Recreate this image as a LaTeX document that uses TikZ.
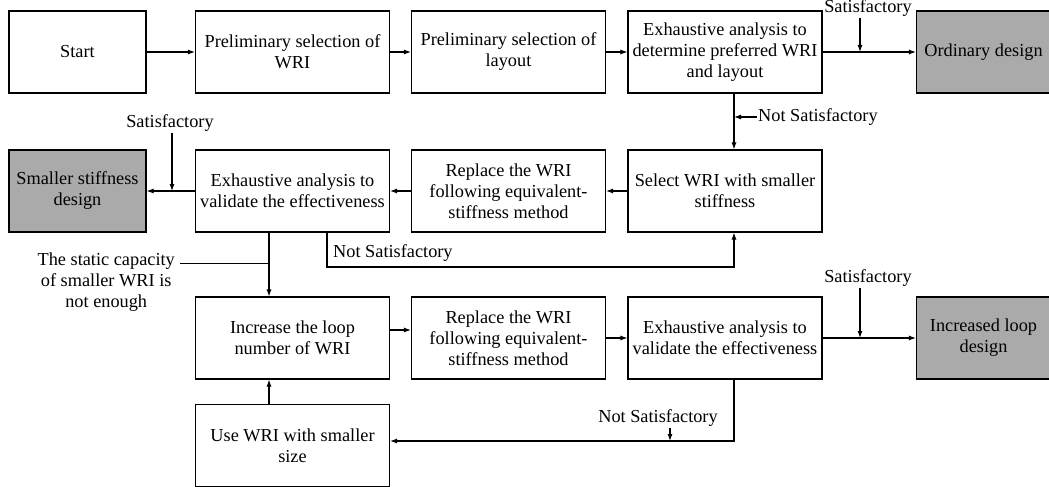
\documentclass[tikz,border=0pt]{standalone}
\usepackage{fontspec}
\setmainfont{LiberationSerif}[Extension=.ttf, UprightFont=*-Regular, BoldFont=*-Bold]
\usepackage{tikz}
\usetikzlibrary{arrows.meta}
\definecolor{boxgray}{RGB}{170,170,170}

\begin{document}
\begin{tikzpicture}[x=1pt,y=-1pt,
  font=\fontsize{18.3}{21}\selectfont,
  box/.style={draw, line width=1.1pt, minimum width=194pt, minimum height=82pt, inner sep=0pt, align=center},
  endbox/.style={box, fill=boxgray},
  arr/.style={-{Latex[length=7pt,width=5pt]}, line width=1.1pt},
  lbl/.style={inner sep=1pt, align=center}]
\useasboundingbox (0,0) rectangle (1049,487);

% first row
\node[box, minimum width=137pt] (start) at (77.5,52) {Start};
\node[box] (selwri) at (292.5,52) {Preliminary selection of\\WRI};
\node[box] (sellay) at (508.5,52) {Preliminary selection of\\layout};
\node[box] (exhdet) at (725,52) {Exhaustive analysis to\\determine preferred WRI\\and layout};
\node[endbox, minimum width=134pt] (ordinary) at (983.5,52) {Ordinary design};

% second row
\node[endbox, minimum width=137pt] (smaller) at (77.5,191) {Smaller stiffness\\design};
\node[box] (valid) at (292.5,191) {Exhaustive analysis to\\validate the effectiveness};
\node[box] (repl) at (508.5,191) {Replace the WRI\\following equivalent-\\stiffness method};
\node[box] (select) at (725,191) {Select WRI with smaller\\stiffness};

% third and fourth row
\node[box] (incr) at (292.5,338) {Increase the loop\\number of WRI};
\node[box] (replb) at (508.5,338) {Replace the WRI\\following equivalent-\\stiffness method};
\node[box] (validb) at (725,338) {Exhaustive analysis to\\validate the effectiveness};
\node[endbox, minimum width=134pt] (incloop) at (983.5,338) {Increased loop\\design};
\node[box] (usewri) at (292.5,445.5) {Use WRI with smaller\\size};

% labels
\node[lbl] (sata) at (868,8) {Satisfactory};
\node[lbl] (satb) at (170,123) {Satisfactory};
\node[lbl] (satc) at (868,278) {Satisfactory};
\node[lbl, anchor=west] (nsa) at (757,117) {Not Satisfactory};
\node[lbl, anchor=west] (nsb) at (332,253) {Not Satisfactory};
\node[lbl] (nsc) at (658,418) {Not Satisfactory};
\node[lbl, anchor=east] (cap) at (176,282) {The static capacity\\of smaller WRI is\\not enough};

\coordinate (ja) at (860,52);
\coordinate (jb) at (172,191);
\coordinate (jc) at (860,338);
\coordinate (da) at (734,117);
\coordinate (fa) at (327,267);
\coordinate (fb) at (734,267);
\coordinate (fc) at (734,441);
\coordinate (fd) at (670,441);
\coordinate (dn) at (269,263);

\draw[arr] (start) -- (selwri);
\draw[arr] (selwri) -- (sellay);
\draw[arr] (sellay) -- (exhdet);
\draw[arr] (exhdet) -- (ordinary);
\draw[arr] (sata.south -| ja) -- (ja);

\draw[arr] (exhdet.south -| da) -- (select.north -| da);
\draw[arr] (nsa.west) -- (da);

\draw[arr] (select) -- (repl);
\draw[arr] (repl) -- (valid);
\draw[arr] (valid) -- (smaller);
\draw[arr] (satb.south -| jb) -- (jb);

\draw[arr] (valid.south -| fa) -- (fa) -- (fb) -- (select.south -| fb);
\draw[arr] (valid.south -| dn) -- (incr.north -| dn);
\draw ([xshift=4pt]cap.east |- dn) -- (dn);

\draw[arr] ([yshift=8pt]incr.east) -- ([yshift=8pt]replb.west);
\draw[arr] (replb) -- (validb);
\draw[arr] (validb) -- (incloop);
\draw[arr] (satc.south -| jc) -- (jc);

\draw[arr] (validb.south -| fc) -- (fc) -- (usewri.east |- fc);
\draw[arr] (nsc.south -| fd) -- (fd);
\draw[arr] (usewri.north -| dn) -- (incr.south -| dn);
\end{tikzpicture}
\end{document}
